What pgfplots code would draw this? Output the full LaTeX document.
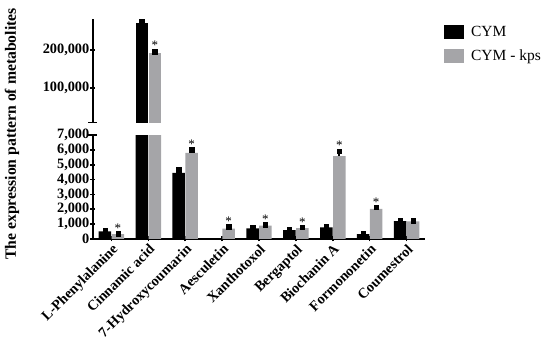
\documentclass[border=0pt]{standalone}
\usepackage{fontspec}
\setmainfont{Liberation Serif}
\usepackage{pgfplots}
\pgfplotsset{compat=1.18}
\definecolor{kpsgray}{RGB}{165,165,168}
\newcommand{\tickfont}{\fontsize{14.3}{16}\selectfont\bfseries}
\pgfplotsset{
  brk/.style={
    scale only axis, width=332pt,
    xmin=-0.5, xmax=8.5,
    every tick/.style={line width=1.6pt, black},
    major tick length=5pt, tick align=outside,
    scaled y ticks=false,
    /pgf/number format/assume math mode=true,
    /pgf/number format/fixed, /pgf/number format/1000 sep={,},
    yticklabel style={font=\tickfont, inner sep=1pt},
    xticklabel style={font=\tickfont, rotate=45, anchor=north east, inner sep=1pt},
    clip=true,
  },
  noarrow/.style={
    axis line style={-, line width=1.6pt, black},
    x axis line style={-}, y axis line style={-},
  },
  ebar/.style={
    error bars/y dir=plus, error bars/y explicit,
    error bars/error mark=square*,
    error bars/error mark options={mark size=2.2pt, black, fill=black},
    error bars/error bar style={line width=1.6pt, black}},
  cym/.style={ybar, bar width=12.5pt, bar shift=0pt, fill=black, draw=none, ebar},
  kps/.style={ybar, bar width=12.5pt, bar shift=0pt, fill=kpsgray, draw=none, ebar},
  star/.style={draw=none, mark=none, nodes near coords={*},
    nodes near coords style={anchor=south, inner sep=1pt, font=\fontsize{13}{14}\selectfont, text=black}},
}
\begin{document}
\begin{tikzpicture}
\useasboundingbox (0,0) rectangle (550pt,342pt);
% lower axis
\begin{axis}[brk,
  at={(93pt,103pt)}, anchor=south west, height=104pt,
  ymin=0, ymax=7000,
  axis x line=bottom, axis y line=left, noarrow,
  ytick={0,1000,2000,3000,4000,5000,6000,7000},
  extra y ticks={7000}, extra y tick labels={},
  extra y tick style={tick align=center, major tick length=9pt},
  xtick={0,1,2,3,4,5,6,7,8},
  xticklabels={L-Phenylalanine, Cinnamic acid, 7-Hydroxycoumarin, Aesculetin, Xanthotoxol, Bergaptol, Biochanin A, Formononetin, Coumestrol},
]
% CYM bars, plotted at category - 0.176
\addplot[cym] coordinates {
  (-0.176,520) +- (0,40)
  (0.824,271000) +- (0,3000)
  (1.824,4450) +- (0,220)
  (3.824,720) +- (0,30)
  (4.824,590) +- (0,25)
  (5.824,780) +- (0,80)
  (6.824,320) +- (0,70)
  (7.824,1200) +- (0,30)
};
% CYM - kps bars, plotted at category + 0.176
\addplot[kps] coordinates {
  (0.176,320) +- (0,50)
  (1.176,192000) +- (0,4000)
  (2.176,5800) +- (0,200)
  (3.176,690) +- (0,130)
  (4.176,900) +- (0,70)
  (5.176,730) +- (0,60)
  (6.176,5580) +- (0,330)
  (7.176,2020) +- (0,110)
  (8.176,1180) +- (0,40)
};
\addplot[star] coordinates {
  (0.176,370) (2.176,6000) (3.176,820) (4.176,970) (5.176,790) (6.176,5910) (7.176,2130)
};
\end{axis}
% upper axis
\begin{axis}[brk,
  at={(93pt,219.3pt)}, anchor=south west, height=103.7pt,
  ymin=8700, ymax=281600,
  axis x line=none, axis y line=left, noarrow,
  ytick={100000,200000},
  extra y ticks={8700}, extra y tick labels={},
  extra y tick style={tick align=center, major tick length=9pt},
  xtick=\empty,
  legend style={draw=none, fill=none, at={(1.057,0.955)}, anchor=north west,
    font=\fontsize{15.5}{18}\selectfont, row sep=8pt, inner sep=0pt,
    nodes={inner sep=2pt},
    /tikz/every odd column/.append style={column sep=5pt}},
  legend cell align=left,
]
\addplot[cym, legend image code/.code={\fill[black] (0pt,-7pt) rectangle (20pt,7pt);}]
  coordinates {(0.824,271000) +- (0,3000)};
\addlegendentry{CYM}
\addplot[kps, legend image code/.code={\fill[kpsgray] (0pt,-7pt) rectangle (20pt,7pt);}]
  coordinates {(1.176,192000) +- (0,4000)};
\addlegendentry{CYM - kps}
\addplot[star] coordinates {(1.176,197000)};
\end{axis}
\node[rotate=90, font=\fontsize{15.7}{17}\selectfont\bfseries] at (12pt,208pt) {The expression pattern of metabolites};
\end{tikzpicture}
\end{document}
